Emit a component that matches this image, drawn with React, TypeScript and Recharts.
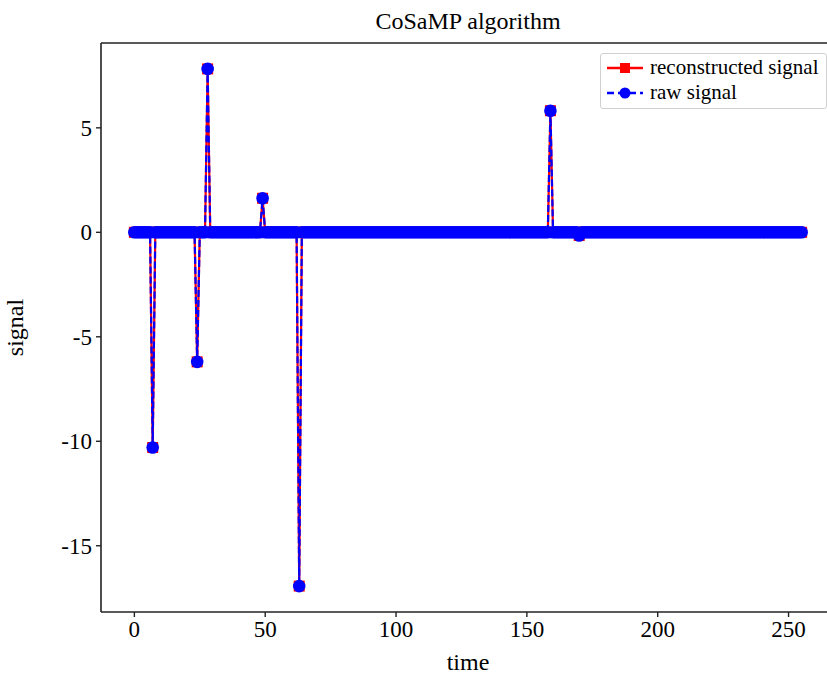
import React from 'react';
import { LineChart, Line, XAxis, YAxis, ReferenceLine } from 'recharts';

// time axis: samples 0..255
const sampleCount = 256;
// non-zero spikes (index, value)
const rawSpikeIdx = [7, 24, 28, 49, 63, 159, 170];
const rawSpikeVal = [-10.3, -6.2, 7.82, 1.63, -16.93, 5.82, -0.15];
const recSpikeIdx = [7, 24, 28, 49, 63, 159, 170];
const recSpikeVal = [-10.3, -6.2, 7.82, 1.63, -16.93, 5.82, -0.15];
const xTicks = [0, 50, 100, 150, 200, 250];
const yTicks = [-15, -10, -5, 0, 5];
const xDomain = [-12.75, 267.75];
const yDomain = [-18.17, 9.06];

const data = Array.from({ length: sampleCount }, (_, t) => {
  const ri = rawSpikeIdx.indexOf(t);
  const ci = recSpikeIdx.indexOf(t);
  return {
    t,
    raw: ri >= 0 ? rawSpikeVal[ri] : 0,
    rec: ci >= 0 ? recSpikeVal[ci] : 0,
  };
});

const FONT = '"Liberation Serif", "Times New Roman", serif';

const SquareDot = (props: any) => {
  const { cx, cy } = props;
  if (cx == null || cy == null) return null;
  return <rect x={cx - 5.5} y={cy - 5.5} width={11} height={11} fill="#ff0000" />;
};
const CircleDot = (props: any) => {
  const { cx, cy } = props;
  if (cx == null || cy == null) return null;
  return <circle cx={cx} cy={cy} r={6.3} fill="#0000ff" />;
};

const LegendBox = () => (
  <div
    style={{
      position: 'absolute',
      left: 600,
      top: 53,
      border: '1px solid #d0d0d0',
      borderRadius: 3,
      background: 'rgba(255,255,255,0.9)',
      padding: '1px 6px 3px 5px',
      fontFamily: FONT,
      fontSize: 21,
      lineHeight: '25px',
      color: '#000',
      width: 214,
    }}
  >
    <div style={{ display: 'flex', alignItems: 'center' }}>
      <svg width={38} height={20} style={{ marginRight: 6 }}>
        <line x1={1} y1={10} x2={37} y2={10} stroke="#ff0000" strokeWidth={2.5} />
        <rect x={14} y={5} width={10} height={10} fill="#ff0000" />
      </svg>
      <span>reconstructed signal</span>
    </div>
    <div style={{ display: 'flex', alignItems: 'center' }}>
      <svg width={38} height={20} style={{ marginRight: 6 }}>
        <line x1={1} y1={10} x2={37} y2={10} stroke="#0000ff" strokeWidth={2.5} strokeDasharray="7 4" />
        <circle cx={19} cy={10} r={5.5} fill="#0000ff" />
      </svg>
      <span>raw signal</span>
    </div>
  </div>
);

export default function App() {
  return (
    <div
      style={{
        position: 'fixed',
        left: 0,
        top: 0,
        width: 827,
        height: 676,
        overflow: 'hidden',
        background: '#fff',
      }}
    >
      <div
        style={{
          position: 'absolute',
          left: 101,
          width: 734,
          top: 6,
          textAlign: 'center',
          fontFamily: FONT,
          fontSize: 24,
          lineHeight: '30px',
          color: '#000',
        }}
      >
        CoSaMP algorithm
      </div>
      <div style={{ position: 'absolute', left: 0, top: 0 }}>
        <LineChart
          width={836}
          height={676}
          data={data}
          margin={{ top: 43, right: 1, bottom: 0, left: 0 }}
        >
          <XAxis
            dataKey="t"
            type="number"
            domain={xDomain}
            ticks={xTicks}
            interval={0}
            height={64}
            tickSize={5}
            tickMargin={4}
            axisLine={{ stroke: '#222', strokeWidth: 1.6 }}
            tickLine={{ stroke: '#222', strokeWidth: 1.4 }}
            tick={{ fill: '#000', fontFamily: FONT, fontSize: 23 }}
            label={{
              value: 'time',
              position: 'insideBottom',
              offset: 6,
              fill: '#000',
              fontFamily: FONT,
              fontSize: 24,
            }}
          />
          <YAxis
            type="number"
            domain={yDomain}
            ticks={yTicks}
            interval={0}
            width={101}
            tickSize={5}
            tickMargin={4}
            axisLine={{ stroke: '#222', strokeWidth: 1.6 }}
            tickLine={{ stroke: '#222', strokeWidth: 1.4 }}
            tick={{ fill: '#000', fontFamily: FONT, fontSize: 23 }}
            label={{
              value: 'signal',
              angle: -90,
              position: 'insideLeft',
              offset: 14,
              style: { textAnchor: 'middle' },
              fill: '#000',
              fontFamily: FONT,
              fontSize: 24,
            }}
          />
          <ReferenceLine y={yDomain[1]} stroke="#222" strokeWidth={1.6} />
          <Line
            dataKey="rec"
            name="reconstructed signal"
            stroke="#ff0000"
            strokeWidth={2.2}
            dot={<SquareDot />}
            activeDot={false}
            isAnimationActive={false}
          />
          <Line
            dataKey="raw"
            name="raw signal"
            stroke="#0000ff"
            strokeWidth={2.2}
            strokeDasharray="7 3"
            dot={<CircleDot />}
            activeDot={false}
            isAnimationActive={false}
          />
        </LineChart>
      </div>
      <LegendBox />
    </div>
  );
}
